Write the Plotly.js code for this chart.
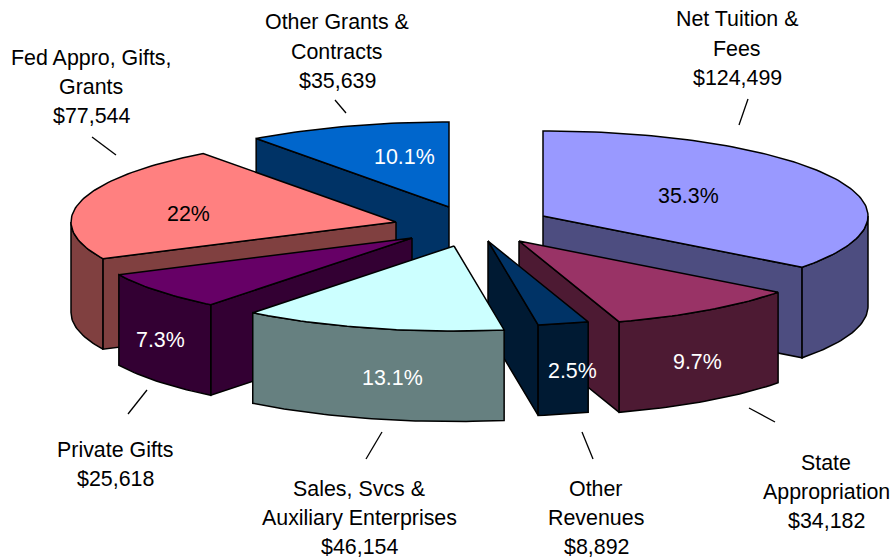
<!DOCTYPE html>
<html>
<head>
<meta charset="utf-8">
<script src="https://cdn.plot.ly/plotly-3.0.1.min.js"></script>
<style>html,body{margin:0;padding:0;background:#fff}#c{width:894px;height:558px}</style>
</head>
<body>
<div id="c"></div>
<script>
// Data
const categories = ["Net Tuition & Fees","State Appropriation","Other Revenues","Sales, Svcs & Auxiliary Enterprises","Private Gifts","Fed Appro, Gifts, Grants","Other Grants & Contracts"];
const values = [124499,34182,8892,46154,25618,77544,35639];
const percentLabels = ["35.3%","9.7%","2.5%","13.1%","7.3%","22%","10.1%"];

// Style
const topColors  = ["#9999ff","#993366","#003366","#ccffff","#660066","#ff8080","#0066cc"];
const wallColors = ["#4d4d80","#4d1a33","#001a33","#668080","#330033","#804040","#003366"];
const pctColors  = ["#000000","#ffffff","#ffffff","#ffffff","#ffffff","#000000","#ffffff"];

// Layout of the exploded 3-D pie (pixel-scaled axes)
const RX = 325, RY = 85, DEPTH = 90.5;
const apexX = [543,519,488,454,412,396,449];
const apexY = [216,241,241,246,238,222,207];
const pctX  = [688,697,572,392,160,188,404];
const pctY  = [196,362,371,378,340,214,157];
const drawOrder = [6,0,5,4,1,2,3];

const labelLines = [
  ["Net Tuition &","Fees","$124,499"],
  ["State","Appropriation","$34,182"],
  ["Other","Revenues","$8,892"],
  ["Sales, Svcs &","Auxiliary Enterprises","$46,154"],
  ["Private Gifts","$25,618"],
  ["Fed Appro, Gifts,","Grants","$77,544"],
  ["Other Grants &","Contracts","$35,639"]
];
const labelX = [737,826,596,359,115,91,337];
const labelY = [[19,49,78],[463,492,521],[489,518,547],[489,518,547],[450,479],[58,87,116],[22,52,81]];
const leaderX = [[739,748],[775,749],[593,582],[366,382],[128,147],[92,116],[335,346]];
const leaderY = [[125,99],[422,408],[459,432],[459,432],[414,390],[137,155],[100,113]];

const FONT = "Liberation Sans, Arial, sans-serif";
const FONT_SIZE = 21.4;

const total = values.reduce((a,b)=>a+b,0);
const starts = [], ends = [];
let acc = 0;
values.forEach(v => { starts.push(acc/total*2*Math.PI); acc += v; ends.push(acc/total*2*Math.PI); });

function arcPts(i, a0, a1){
  const n = Math.max(2, Math.ceil((a1-a0)/0.02));
  const xs=[], ys=[];
  for(let k=0;k<=n;k++){
    const a = a0+(a1-a0)*k/n;
    xs.push(apexX[i]+RX*Math.sin(a));
    ys.push(apexY[i]-RY*Math.cos(a));
  }
  return [xs,ys];
}
function poly(xs, ys, fill){
  return {type:"scatter",mode:"lines",x:[...xs,xs[0]],y:[...ys,ys[0]],fill:"toself",fillcolor:fill,
    line:{color:"#000",width:1.5},hoverinfo:"skip",showlegend:false};
}
const traces = [];
drawOrder.forEach(i => {
  const a0=starts[i], a1=ends[i], ax=apexX[i], ay=apexY[i];
  // Only the cut faces turned towards the viewer are drawn
  const cuts = [];
  if(Math.sin(a0) < 0) cuts.push(a0);
  if(Math.sin(a1) > 0) cuts.push(a1);
  cuts.forEach(a => {
    const ex=ax+RX*Math.sin(a), ey=ay-RY*Math.cos(a);
    traces.push(poly([ax,ex,ex,ax],[ay,ey,ey+DEPTH,ay+DEPTH],wallColors[i]));
  });
  const f0=Math.max(a0,Math.PI/2), f1=Math.min(a1,1.5*Math.PI);
  if(f1>f0){
    const [xs,ys]=arcPts(i,f0,f1);
    traces.push(poly([...xs,...xs.slice().reverse()],[...ys,...ys.slice().reverse().map(y=>y+DEPTH)],wallColors[i]));
  }
  const [xs,ys]=arcPts(i,a0,a1);
  traces.push(poly([ax,...xs],[ay,...ys],topColors[i]));
});
leaderX.forEach((lx,i)=>traces.push({type:"scatter",mode:"lines",x:lx,y:leaderY[i],line:{color:"#000",width:1.3},hoverinfo:"skip",showlegend:false}));

const annotations = [];
const txt = (x,y,t,c)=>annotations.push({xref:"x",yref:"y",x,y,text:t,showarrow:false,xanchor:"center",yanchor:"middle",font:{family:FONT,size:FONT_SIZE,color:c}});
labelLines.forEach((ls,i)=>ls.forEach((t,j)=>txt(labelX[i],labelY[i][j],t,"#000")));
percentLabels.forEach((t,i)=>txt(pctX[i],pctY[i],t,pctColors[i]));

Plotly.newPlot("c",traces,{
  width:894,height:558,margin:{l:0,r:0,t:0,b:0},
  paper_bgcolor:"#fff",plot_bgcolor:"#fff",showlegend:false,
  xaxis:{range:[0,894],visible:false,fixedrange:true},
  yaxis:{range:[558,0],visible:false,fixedrange:true},
  annotations
},{displayModeBar:false,staticPlot:true});
</script>
</body>
</html>
